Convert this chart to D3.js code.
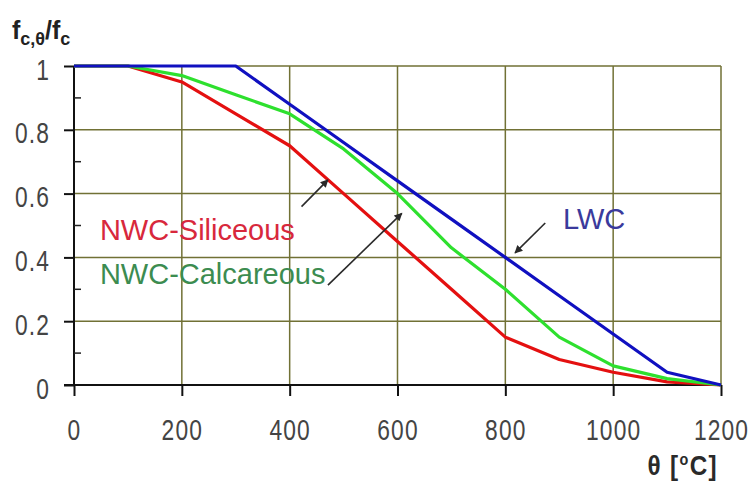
<!DOCTYPE html>
<html>
<head>
<meta charset="utf-8">
<script src="https://cdn.jsdelivr.net/npm/d3@7"></script>
<style>
  body { margin: 0; background: #fff; }
  svg { display: block; }
</style>
</head>
<body>
<svg id="chart" width="756" height="482"></svg>
<script>
// Reduction of concrete compressive strength at elevated temperature
const temps      = [0, 100, 200, 300, 400, 500, 600, 700, 800, 900, 1000, 1100, 1200];
const siliceous  = [1, 1, 0.95, 0.85, 0.75, 0.60, 0.45, 0.30, 0.15, 0.08, 0.04, 0.01, 0];
const calcareous = [1, 1, 0.97, 0.91, 0.85, 0.74, 0.60, 0.43, 0.30, 0.15, 0.06, 0.02, 0];
const lwc        = [1, 1, 1, 1, 0.88, 0.76, 0.64, 0.52, 0.40, 0.28, 0.16, 0.04, 0];

const xTicks = [0, 200, 400, 600, 800, 1000, 1200];
const yTicks = [0, 0.2, 0.4, 0.6, 0.8, 1];
const yTickLabels = ["0", "0.2", "0.4", "0.6", "0.8", "1"];
const yMinorTicks = [0.1, 0.3, 0.5, 0.7, 0.9];

const svg = d3.select("#chart");
const x = d3.scaleLinear().domain([0, 1200]).range([74, 721]);
const y = d3.scaleLinear().domain([0, 1]).range([385, 66]);

const sansFont = "'Liberation Sans', Arial, sans-serif";
const gridColor = "#717135";
const narrow = 0.76; // horizontal squeeze for the tick numbers

// grid
svg.append("g")
  .selectAll("line")
  .data(yTicks.filter(d => d > 0))
  .join("line")
  .attr("x1", x(0)).attr("x2", x(1200))
  .attr("y1", d => y(d)).attr("y2", d => y(d))
  .attr("stroke", gridColor).attr("stroke-width", 1.5);

svg.append("g")
  .selectAll("line")
  .data(xTicks.filter(d => d > 0))
  .join("line")
  .attr("x1", d => x(d)).attr("x2", d => x(d))
  .attr("y1", y(1)).attr("y2", y(0))
  .attr("stroke", gridColor).attr("stroke-width", 1.5);

// x axis
const xAxis = d3.axisBottom(x).tickValues(xTicks).tickSize(11).tickFormat(d3.format("d"));
const gx = svg.append("g").attr("transform", `translate(0,${y(0)})`).call(xAxis);
gx.select(".domain").remove();
gx.append("line").attr("x1", x(0) - 10).attr("x2", x(1200)).attr("y1", 0).attr("y2", 0)
  .attr("stroke", "#111").attr("stroke-width", 2);
gx.selectAll(".tick line").attr("stroke", "#111").attr("stroke-width", 2);
gx.selectAll(".tick text")
  .attr("x", 0).attr("y", 0).attr("dy", 0)
  .attr("transform", `translate(0,55) scale(${narrow},1)`)
  .attr("font-family", sansFont).attr("font-size", 30).attr("fill", "#444")
  .attr("letter-spacing", 1.5);

// y axis
const yAxis = d3.axisLeft(y).tickValues(yTicks).tickSize(10)
  .tickFormat((d, i) => yTickLabels[i]);
const gy = svg.append("g").attr("transform", `translate(${x(0)},0)`).call(yAxis);
gy.select(".domain").remove();
gy.append("line").attr("x1", 0).attr("x2", 0).attr("y1", y(1)).attr("y2", y(0))
  .attr("stroke", "#111").attr("stroke-width", 2);
gy.selectAll(".tick line").attr("stroke", "#111").attr("stroke-width", 2);
gy.selectAll(".tick text")
  .attr("x", 0).attr("dy", 0)
  .attr("transform", `translate(-24,13) scale(${narrow},1)`)
  .attr("font-family", sansFont).attr("font-size", 30).attr("fill", "#444")
  .attr("letter-spacing", 1.5);

svg.append("g")
  .selectAll("line")
  .data(yMinorTicks)
  .join("line")
  .attr("x1", x(0)).attr("x2", x(0) + 7)
  .attr("y1", d => y(d)).attr("y2", d => y(d))
  .attr("stroke", "#222").attr("stroke-width", 1.5);

// curves
const series = [
  { name: "NWC-Siliceous", values: siliceous, color: "#e41010" },
  { name: "NWC-Calcareous", values: calcareous, color: "#2ee02e" },
  { name: "LWC", values: lwc, color: "#1010c0" }
];
const line = d3.line().x((d, i) => x(temps[i])).y(d => y(d));
svg.append("g")
  .selectAll("path")
  .data(series)
  .join("path")
  .attr("d", d => line(d.values))
  .attr("fill", "none")
  .attr("stroke", d => d.color)
  .attr("stroke-width", 3.2)
  .attr("stroke-linejoin", "round");

// labels with pointer arrows
svg.append("defs").append("marker")
  .attr("id", "head")
  .attr("viewBox", "0 0 10 10")
  .attr("refX", 9).attr("refY", 5)
  .attr("markerWidth", 9).attr("markerHeight", 8)
  .attr("markerUnits", "userSpaceOnUse")
  .attr("orient", "auto")
  .append("path").attr("d", "M0,0 L10,5 L0,10 z").attr("fill", "#2a2a2a");

const notes = [
  { text: "NWC-Siliceous", color: "#d8283c", tx: 48, ty: 0.455, from: [422, 0.559], to: [471, 0.643] },
  { text: "NWC-Calcareous", color: "#3c8c50", tx: 48, ty: 0.317, from: [471, 0.313], to: [608, 0.538] },
  { text: "LWC", color: "#3a3a9c", tx: 907, ty: 0.489, from: [874, 0.508], to: [818, 0.414] }
];
svg.append("g")
  .selectAll("text")
  .data(notes)
  .join("text")
  .attr("x", d => x(d.tx)).attr("y", d => y(d.ty))
  .attr("font-family", sansFont).attr("font-size", 29)
  .attr("fill", d => d.color)
  .text(d => d.text);
svg.append("g")
  .selectAll("line")
  .data(notes)
  .join("line")
  .attr("x1", d => x(d.from[0])).attr("y1", d => y(d.from[1]))
  .attr("x2", d => x(d.to[0])).attr("y2", d => y(d.to[1]))
  .attr("stroke", "#2a2a2a").attr("stroke-width", 1.6)
  .attr("marker-end", "url(#head)");

// axis titles
const yTitle = svg.append("text").attr("x", 12).attr("y", 39)
  .attr("font-family", sansFont).attr("font-weight", "bold")
  .attr("fill", "#222");
yTitle.append("tspan").attr("font-size", 25).text("f");
yTitle.append("tspan").attr("font-size", 18).attr("dy", 6).text("c,θ");
yTitle.append("tspan").attr("font-size", 25).attr("dy", -6).text("/f");
yTitle.append("tspan").attr("font-size", 18).attr("dy", 6).text("c");

const xTitle = svg.append("text")
  .attr("transform", "translate(718,475) scale(0.9,1)")
  .attr("text-anchor", "end")
  .attr("font-family", sansFont).attr("font-weight", "bold")
  .attr("fill", "#2a2a2a").attr("letter-spacing", 1.5);
xTitle.append("tspan").attr("font-size", 27).text("θ [");
xTitle.append("tspan").attr("font-size", 16).attr("dy", -10).text("o");
xTitle.append("tspan").attr("font-size", 27).attr("dy", 10).text("C]");
</script>
</body>
</html>
